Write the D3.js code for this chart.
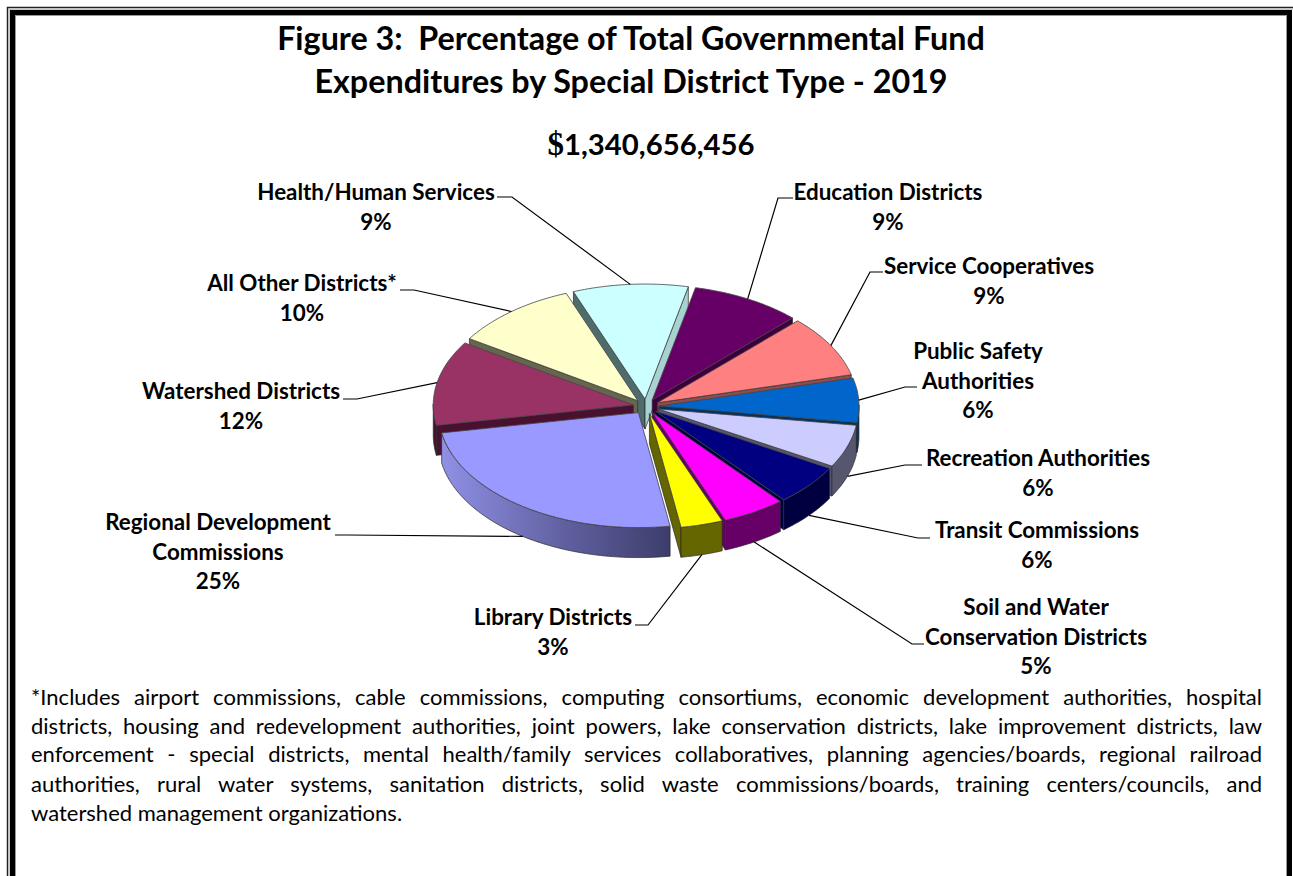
<!DOCTYPE html>
<html><head><meta charset="utf-8">
<script src="https://cdn.jsdelivr.net/npm/d3@7"></script>
<style>html,body{margin:0;padding:0;background:#fff}svg{display:block}</style></head>
<body><svg id="c" width="1293" height="876"></svg>
<script>
const categories=["Education Districts","Service Cooperatives","Public Safety Authorities","Recreation Authorities","Transit Commissions","Soil and Water Conservation Districts","Library Districts","Regional Development Commissions","Watershed Districts","All Other Districts*","Health/Human Services"];
const percents=[8.9,8.7,6.2,6.0,5.7,5.1,3.4,24.7,11.9,10.1,9.3];
const topColors=["#660066","#ff8080","#0066cc","#ccccff","#000080","#ff00ff","#ffff00","#9999ff","#993366","#ffffcc","#ccffff"];
const wallColors=["#3d003d","#8f4c4c","#003366","#56566f","#000040","#660066","#666600","#5c5c99","#4a1030","#66664f","#a8d2d2"];
const titleLines=["Figure 3:  Percentage of Total Governmental Fund","Expenditures by Special District Type - 2019"];
const totalLabel="1,340,656,456";
const footnote=["*Includes airport commissions, cable commissions, computing consortiums, economic development authorities, hospital",
"districts, housing and redevelopment authorities, joint powers, lake conservation districts, lake improvement districts, law",
"enforcement - special districts, mental health/family services collaboratives, planning agencies/boards, regional railroad",
"authorities, rural water systems, sanitation districts, solid waste commissions/boards, training centers/councils, and",
"watershed management organizations."];

// label layout, kept apart from the data
const labelLayout=[
 {lines:["Education Districts"],cx:888,y:200,elbow:[[778,198],[793,198]]},
 {lines:["Service Cooperatives"],cx:989,y:274,elbow:[[870,272],[883,272]]},
 {lines:["Public Safety","Authorities"],cx:978,y:359,elbow:[[905,387],[917,387]]},
 {lines:["Recreation Authorities"],cx:1038,y:466,elbow:[[905,465],[922,465]]},
 {lines:["Transit Commissions"],cx:1037,y:538,elbow:[[918,538],[930,538]]},
 {lines:["Soil and Water","Conservation Districts"],cx:1036,y:615,elbow:[[912,644],[924,644]]},
 {lines:["Library Districts"],cx:553,y:625,elbow:[[648,625],[635,625]]},
 {lines:["Regional Development","Commissions"],cx:218,y:530,elbow:[[347,535],[335,535]]},
 {lines:["Watershed Districts"],cx:241,y:399,elbow:[[357,399],[343,399]]},
 {lines:["All Other Districts*"],cx:302,y:291,elbow:[[414,290],[400,290]]},
 {lines:["Health/Human Services"],cx:376,y:200,elbow:[[512,197],[497,197]]}];

const svg=d3.select("#c");
const defs=svg.append("defs");
const rad=d=>d*Math.PI/180;
const W=1293;

// frame
const frame=svg.append("g").attr("fill","none");
frame.append("rect").attr("x",7.5).attr("y",7.5).attr("width",W+20).attr("height",900).attr("stroke","#222").attr("stroke-width",1.5);
frame.append("rect").attr("x",9.2).attr("y",9.2).attr("width",W+20).attr("height",900).attr("stroke","#bbb").attr("stroke-width",1.2);
frame.append("rect").attr("x",12.5).attr("y",12.5).attr("width",1277).attr("height",900).attr("stroke","#000").attr("stroke-width",5);
frame.append("rect").attr("x",15.5).attr("y",15.5).attr("width",1271).attr("height",900).attr("stroke","#999").attr("stroke-width",1);

// pie projection
const cx=646,cy=406.5,rx=200,ry=115,depth=30,explode=0.065;
const xS=d3.scaleLinear().domain([-1,1]).range([cx-rx,cx+rx]);
const yS=d3.scaleLinear().domain([-1,1]).range([cy+ry,cy-ry]);
const startDeg=12.5;
const pie=d3.pie().sort(null).value(d=>d).startAngle(rad(startDeg)).endAngle(rad(startDeg+360));
const arcs=pie(percents).map((a,i)=>{
  const mid=(a.startAngle+a.endAngle)/2;
  return {i,a0:a.startAngle,a1:a.endAngle,mid,ox:explode*Math.sin(mid),oy:explode*Math.cos(mid)};
});
const P=(s,t,r=1,dz=0)=>[xS(r*Math.sin(t)+s.ox),yS(r*Math.cos(t)+s.oy)+dz];
const line=d3.line();
const samples=(a,b)=>d3.range(0,41).map(k=>a+(b-a)*k/40);

// gradient for the large rim
const gr=defs.append("linearGradient").attr("id","rimG").attr("gradientUnits","objectBoundingBox").attr("x1",0).attr("x2",1).attr("y1",0).attr("y2",0);
gr.append("stop").attr("offset",0).attr("stop-color","#9090e6");
gr.append("stop").attr("offset",.55).attr("stop-color","#5f5f9f");
gr.append("stop").attr("offset",1).attr("stop-color","#3d3d6c");

const order=arcs.slice().sort((p,q)=>Math.cos(q.mid)-Math.cos(p.mid));
const pieG=svg.append("g");
const edge="#2a2a2a";
order.forEach(s=>{
  const g=pieG.append("g");
  const wall=wallColors[s.i];
  const apex=P(s,0,0);
  // radial walls, shown only when they face the viewer
  [[s.a0,s.a0-Math.PI/2,0],[s.a1,s.a1+Math.PI/2,1]].forEach(([t,n,side])=>{
    if(Math.cos(n)<0){
      const e=P(s,t);
      g.append("path").attr("d",line([apex,e,[e[0],e[1]+depth],[apex[0],apex[1]+depth]])+"Z")
       .attr("fill",(s.i===10&&side===0)?"#4f6c6c":wall).attr("stroke",edge).attr("stroke-width",.7);
    }
  });
  // outer rim: front-facing portion
  const ts=samples(s.a0,s.a1).filter(t=>Math.cos(t)<=0.02);
  if(ts.length>1){
    const up=ts.map(t=>P(s,t)),dn=ts.slice().reverse().map(t=>P(s,t,1,depth));
    g.append("path").attr("d",line(up.concat(dn))+"Z")
     .attr("fill",s.i===7?"url(#rimG)":wall).attr("stroke",edge).attr("stroke-width",.7);
  }
  // top surface
  const topPts=[apex].concat(samples(s.a0,s.a1).map(t=>P(s,t)));
  g.append("path").attr("d",line(topPts)+"Z").attr("fill",topColors[s.i]).attr("stroke","#444").attr("stroke-width",.8).attr("stroke-linejoin","round");
});

// leader lines
const leaders=svg.append("g").attr("fill","none").attr("stroke","#000").attr("stroke-width",1.2);
arcs.forEach(s=>{
  const front=Math.cos(s.mid)<-0.1;
  const a=P(s,s.mid,1,front?depth:0);
  leaders.append("path").attr("d",line([a].concat(labelLayout[s.i].elbow)));
});

// text
const LF="Lato, 'Noto Sans', sans-serif";
const txt=svg.append("g").attr("font-family",LF).attr("fill","#000");
const tl=txt.append("g").attr("text-anchor","middle").attr("font-weight",700).attr("font-size",32.3);
titleLines.forEach((t,k)=>tl.append("text").attr("x",631).attr("y",[50,93][k]).style("white-space","pre").text(t));
const tot=txt.append("text").attr("x",651).attr("y",155).attr("text-anchor","middle").attr("font-weight",700).attr("font-size",29.3);
tot.append("tspan").attr("font-family","'Liberation Serif',serif").attr("font-size",33).text("$");
tot.append("tspan").text(totalLabel);

const lab=txt.append("g").attr("text-anchor","middle").attr("font-weight",700).attr("font-size",22.4);
arcs.forEach(s=>{
  const L=labelLayout[s.i];
  L.lines.concat([Math.round(percents[s.i])+"%"]).forEach((t,k)=>lab.append("text").attr("x",L.cx).attr("y",L.y+k*29.5).text(t));
});

const fn=txt.append("g").attr("font-size",22);
const fnY=[705,734,762,792,821], fnL=31, fnR=1262;
footnote.forEach((t,k)=>{
  const el=fn.append("text").attr("x",fnL).attr("y",fnY[k]).text(t);
  if(k<footnote.length-1){
    const gaps=t.split(" ").length-1;
    el.attr("word-spacing",(fnR-fnL-el.node().getComputedTextLength())/gaps);
  }
});
</script></body></html>
